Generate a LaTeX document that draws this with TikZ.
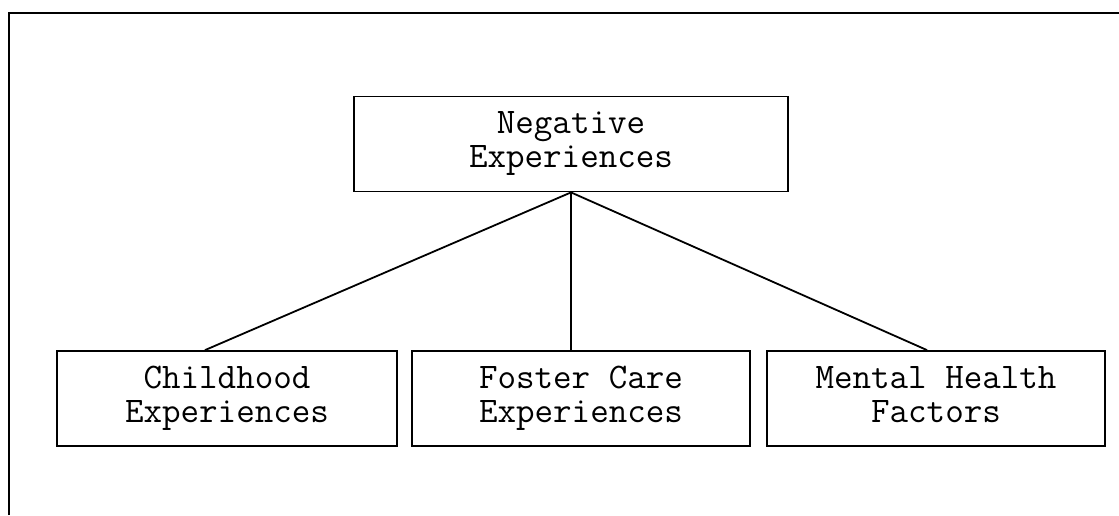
\documentclass[tikz,border=0pt]{standalone}
\begin{document}
\begin{tikzpicture}[x=1pt,y=-1pt,
  boxnode/.style={draw=black, line width=1.8pt, align=center, inner sep=0pt,
    font=\ttfamily\fontsize{36}{34}\selectfont, minimum height=95pt},
  link/.style={line width=1.8pt}]
\useasboundingbox (0,0) rectangle (1119,515);
\draw[link] (9,515) -- (9,13) -- (1119,13);
\node[boxnode, minimum width=434pt] (top) at (571,144) {\strut Negative\\\strut Experiences};
\node[boxnode, minimum width=340pt] (c1) at (227,398.5) {\strut Childhood\\\strut Experiences};
\node[boxnode, minimum width=338pt] (c2) at (581,398.5) {\strut Foster Care\\\strut Experiences};
\node[boxnode, minimum width=338pt] (c3) at (936,398.5) {\strut Mental Health\\\strut Factors};
\draw[link] (top.south) -- ([xshift=-22pt]c1.north);
\draw[link] (top.south) -- (top.south |- c2.north);
\draw[link] (top.south) -- ([xshift=-9pt]c3.north);
\end{tikzpicture}
\end{document}
